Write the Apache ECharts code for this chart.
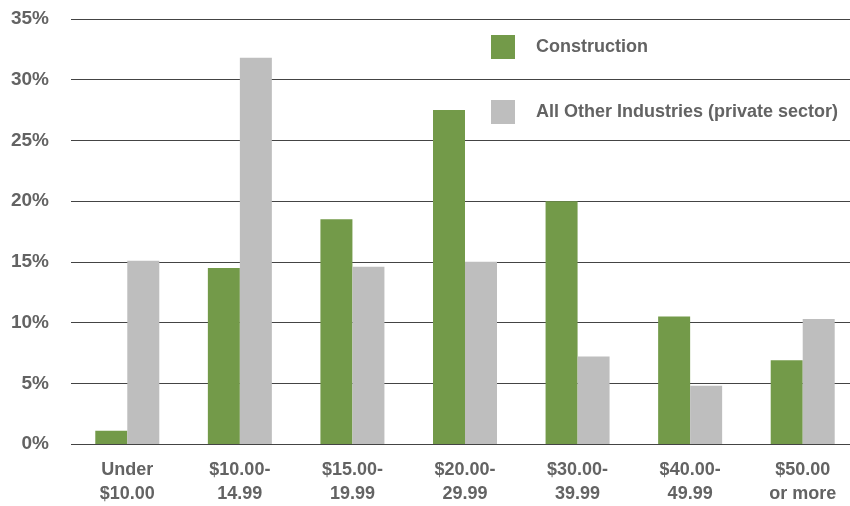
<!DOCTYPE html>
<html lang="en">

<head>
    <meta charset="UTF-8">
    <title>Wage distribution</title>
    <script src="https://cdn.jsdelivr.net/npm/echarts@6/dist/echarts.min.js"></script>
    <style>
        html, body {
            margin: 0;
            padding: 0;
            background: #fff;
            overflow: hidden;
        }

        /* a bit wider than the window: the last band runs past the right edge */
        #chart {
            width: 859px;
            height: 506px;
        }
    </style>
</head>

<body>
    <div id="chart"></div>
    <script type="text/javascript">
        // wage brackets and shares of workers (%)
        var categories = ['Under\n$10.00', '$10.00-\n14.99', '$15.00-\n19.99', '$20.00-\n29.99',
            '$30.00-\n39.99', '$40.00-\n49.99', '$50.00\nor more'];
        var construction = [1.1, 14.5, 18.5, 27.5, 20.0, 10.5, 6.9];
        var otherIndustries = [15.1, 31.8, 14.6, 15.0, 7.2, 4.8, 10.3];
        var seriesNames = ['Construction', 'All Other Industries (private sector)'];

        var font = "'Liberation Sans', Arial, sans-serif";
        var textColor = '#636363';

        var chart = echarts.init(document.getElementById('chart'));
        var option = {
            animation: false,
            textStyle: { fontFamily: font },
            grid: {
                left: 71,
                right: 0,
                top: 19,
                bottom: 61
            },
            legend: {
                orient: 'vertical',
                left: 486,
                top: 30,
                itemWidth: 24,
                itemHeight: 24,
                itemGap: 41,
                icon: 'rect',
                data: seriesNames,
                textStyle: {
                    fontFamily: font,
                    fontSize: 18,
                    fontWeight: 'bold',
                    color: textColor,
                    padding: [0, 0, 0, 16]
                }
            },
            xAxis: {
                type: 'category',
                data: categories,
                axisLine: { show: false },
                axisTick: { show: false },
                axisLabel: {
                    margin: 14,
                    fontFamily: font,
                    fontSize: 18,
                    fontWeight: 'bold',
                    lineHeight: 24,
                    color: textColor,
                    interval: 0
                }
            },
            yAxis: {
                type: 'value',
                min: 0,
                max: 35,
                interval: 5,
                axisLine: { show: false },
                axisTick: { show: false },
                axisLabel: {
                    margin: 22,
                    fontFamily: font,
                    fontSize: 19,
                    fontWeight: 'bold',
                    color: textColor,
                    formatter: '{value}%'
                },
                splitLine: {
                    lineStyle: { color: '#444', width: 1 }
                }
            },
            series: [{
                name: seriesNames[0],
                type: 'bar',
                data: construction,
                barWidth: 32,
                barGap: '0%',
                itemStyle: { color: '#739a49' }
            }, {
                name: seriesNames[1],
                type: 'bar',
                data: otherIndustries,
                barWidth: 32,
                itemStyle: { color: '#bebebe' }
            }]
        };
        chart.setOption(option);
    </script>
</body>

</html>
